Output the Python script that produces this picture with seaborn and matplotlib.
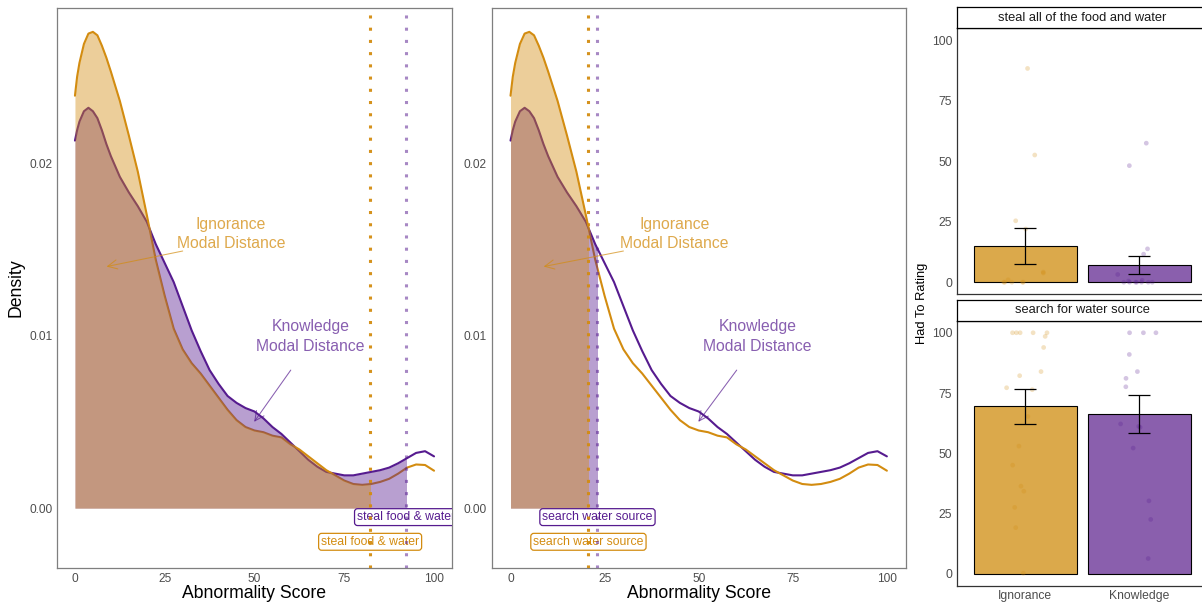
import numpy as np
import pandas as pd
import matplotlib
matplotlib.use("Agg")
import matplotlib.pyplot as plt
from matplotlib.patches import Rectangle
import seaborn as sns

# ------------------------------------------------------------------ data
score_grid = [0, 0.6, 1.25, 2.5, 3.75, 5, 6.25, 7.5, 8.75, 10, 12.5, 15, 17.5, 20, 22.5, 25,
              27.5, 30, 32.5, 35, 37.5, 40, 42.5, 45, 47.5, 50, 52.5, 55, 57.5, 60,
              62.5, 65, 67.5, 70, 72.5, 75, 77.5, 80, 82.5, 85, 87.5, 90, 92.5, 95,
              97.5, 100]
ignorance_density = [0.0239, 0.0250, 0.0258, 0.0269, 0.0275, 0.0276, 0.0274, 0.0268, 0.0261,
                     0.0253, 0.0236, 0.0216, 0.0195, 0.0170, 0.0144, 0.0123, 0.0104, 0.0092,
                     0.0084, 0.0078, 0.0071, 0.0064, 0.0057, 0.0051, 0.0047, 0.0045,
                     0.0044, 0.0042, 0.0041, 0.0037, 0.0034, 0.0030, 0.0026, 0.0022,
                     0.0019, 0.0016, 0.0014, 0.00135, 0.0014, 0.00152, 0.0017, 0.0020,
                     0.00235, 0.00253, 0.0025, 0.00217]
knowledge_density = [0.0213, 0.0219, 0.0224, 0.0230, 0.0232, 0.0230, 0.0226, 0.0219, 0.0211,
                     0.0204, 0.0192, 0.0183, 0.0175, 0.0166, 0.0153, 0.0142, 0.0131, 0.0117,
                     0.0103, 0.0091, 0.0080, 0.0072, 0.0065, 0.0061, 0.0058, 0.0056,
                     0.0052, 0.0047, 0.0043, 0.0038, 0.0033, 0.0028, 0.0024, 0.0021,
                     0.0020, 0.0019, 0.0019, 0.0020, 0.0021, 0.0022, 0.00235, 0.0026,
                     0.0029, 0.0032, 0.0033, 0.0030]

conditions = ["Ignorance", "Knowledge"]
steal_cutoffs = [82.2, 92.2]      # Ignorance, Knowledge
search_cutoffs = [20.7, 23.1]
steal_label = "steal food & water"
search_label = "search water source"
annot_ignorance = "Ignorance\nModal Distance"
annot_knowledge = "Knowledge\nModal Distance"

facet_titles = ["steal all of the food and water", "search for water source"]
steal_means = [15.0, 7.1]
steal_ci_low = [7.7, 3.4]
steal_ci_high = [22.6, 10.9]
search_means = [69.6, 66.4]
search_ci_low = [62.3, 58.3]
search_ci_high = [76.8, 74.4]

steal_points_ignorance = [88.4, 52.6, 25.4, 22.0, 4.2, 3.8, 1.0, 0, 0, 0, 0, 0]
steal_points_knowledge = [57.5, 48.2, 13.8, 11.6, 3.2, 0.8, 0.5, 0, 0, 0, 0, 0, 0, 0]
search_points_ignorance = [100, 100, 100, 98.5, 100, 100, 93.9, 83.9, 82.2, 77.2, 76.4,
                           65.3, 53.0, 45.1, 36.4, 34.3, 27.6, 19.2, 0.3]
search_points_knowledge = [100, 100, 100, 91.0, 83.9, 81.1, 77.6, 60.8, 62.2, 61.2, 52.2,
                           30.3, 22.6, 6.4]

score_ticks = [0, 25, 50, 75, 100]
density_ticks = [0.00, 0.01, 0.02]
rating_ticks = [0, 25, 50, 75, 100]

# ------------------------------------------------------------------ style
sns.set_theme(style="white")
plt.rcParams["font.family"] = ["Liberation Sans", "DejaVu Sans"]

COL = {"Ignorance": "#D38C10", "Knowledge": "#561B8F"}
BAR = {"Ignorance": "#DBA94B", "Knowledge": "#8A5FAD"}
TICK_COL = "#4D4D4D"
FRAME_COL = "#7F7F7F"

W, H = 1202, 605
fig = plt.figure(figsize=(W / 100, H / 100), dpi=100)


def px_axes(x0, y0, x1, y1):
    return fig.add_axes([x0 / W, 1 - y1 / H, (x1 - x0) / W, (y1 - y0) / H])


def density_panel(ax, cutoffs, label_text, show_ylabel):
    dens = {"Ignorance": ignorance_density, "Knowledge": knowledge_density}
    cut = dict(zip(conditions, cutoffs))
    for cond in ["Knowledge", "Ignorance"]:
        line = sns.lineplot(x=score_grid, y=dens[cond], color=COL[cond], lw=1.5,
                            estimator=None, sort=False, ax=ax, zorder=2)
    for l in ax.get_lines():
        l.set_solid_joinstyle("round")
    for z, cond in [(3, "Knowledge"), (4, "Ignorance")]:
        poly = ax.fill_between(score_grid, 0, dens[cond], color=COL[cond],
                               alpha=0.42, lw=0, zorder=z)
        poly.set_clip_path(Rectangle((0, -1), cut[cond], 2, transform=ax.transData))

    box = dict(boxstyle="round,pad=0.2,rounding_size=0.25", fc="white", lw=0.9)
    ax.text(cut["Knowledge"], -0.00052, label_text, color=COL["Knowledge"], ha="center",
            va="center", fontsize=8.8, zorder=5, clip_on=True,
            bbox=dict(box, ec=COL["Knowledge"]))
    ax.text(cut["Ignorance"], -0.00195, label_text, color=COL["Ignorance"], ha="center",
            va="center", fontsize=8.8, zorder=5, clip_on=True,
            bbox=dict(box, ec=COL["Ignorance"]))

    ax.axvline(cut["Ignorance"], color=COL["Ignorance"], alpha=0.95, lw=2.2,
               ls=(0, (1, 3)), zorder=6)
    ax.axvline(cut["Knowledge"], color=COL["Knowledge"], alpha=0.52, lw=2.2,
               ls=(0, (1, 3)), zorder=6)

    arrow = dict(arrowstyle="->,head_length=0.45,head_width=0.22", lw=0.75,
                 shrinkA=0, shrinkB=0, mutation_scale=15, alpha=0.7)
    ax.annotate("", xy=(8.8, 0.0140), xytext=(30, 0.0149),
                arrowprops=dict(arrow, color=COL["Ignorance"]), zorder=7)
    ax.annotate("", xy=(49.9, 0.0050), xytext=(60.1, 0.0080),
                arrowprops=dict(arrow, color=COL["Knowledge"]), zorder=7)
    ax.text(43.5, 0.0159, annot_ignorance, color=COL["Ignorance"], alpha=0.75,
            ha="center", va="center", fontsize=11.3, linespacing=1.35, zorder=7)
    ax.text(65.6, 0.00995, annot_knowledge, color=COL["Knowledge"], alpha=0.7,
            ha="center", va="center", fontsize=11.3, linespacing=1.35, zorder=7)

    ax.set_xlim(-5, 105)
    ax.set_ylim(-0.00348, 0.0290)
    ax.set_xticks(score_ticks)
    ax.set_xticklabels([str(t) for t in score_ticks])
    ax.set_yticks(density_ticks)
    ax.set_yticklabels([f"{t:.2f}" for t in density_ticks])
    ax.tick_params(length=0, labelsize=8.6, labelcolor=TICK_COL, pad=3.5)
    for s in ax.spines.values():
        s.set_visible(True)
        s.set_color(FRAME_COL)
        s.set_linewidth(0.9)
    ax.set_xlabel("Abnormality Score", fontsize=12.7, color="black")
    ax.xaxis.set_label_coords(0.5, -0.0305)
    if show_ylabel:
        ax.set_ylabel("Density", fontsize=12.7, color="black")
        ax.yaxis.set_label_coords(-0.082, 0.5)
    else:
        ax.set_ylabel("")


ax1 = px_axes(57, 7.7, 452, 568.2)
density_panel(ax1, steal_cutoffs, steal_label, True)
ax2 = px_axes(491.7, 7.7, 905.7, 568.2)
density_panel(ax2, search_cutoffs, search_label, False)


def bar_facet(ax, sax, title, means, lo, hi, pts_i, pts_k, show_x):
    bars = pd.DataFrame({"condition": conditions, "rating": means})
    sns.barplot(data=bars, x="condition", y="rating", hue="condition", order=conditions,
                hue_order=conditions, palette=BAR, width=0.9, saturation=1,
                edgecolor="black", linewidth=0.8, errorbar=None, legend=False,
                ax=ax, zorder=2)
    pts = pd.DataFrame({"condition": ["Ignorance"] * len(pts_i) + ["Knowledge"] * len(pts_k),
                        "rating": pts_i + pts_k})
    sns.stripplot(data=pts, x="condition", y="rating", hue="condition", order=conditions,
                  hue_order=conditions, palette=COL, jitter=0.2, size=3.4, alpha=0.25,
                  linewidth=0, legend=False, ax=ax, zorder=3)
    m = np.array(means)
    ax.errorbar([0, 1], m, yerr=[m - np.array(lo), np.array(hi) - m], fmt="none",
                ecolor="black", elinewidth=0.9, capsize=8.2, capthick=0.9, zorder=4)
    ax.set_xlim(-0.6, 1.6)
    ax.set_ylim(-5, 105)
    ax.set_yticks(rating_ticks)
    ax.set_yticklabels([str(t) for t in rating_ticks])
    ax.set_xticks([0, 1])
    ax.set_xticklabels(conditions if show_x else ["", ""])
    ax.tick_params(length=0, labelsize=8.7, labelcolor=TICK_COL, pad=3.2)
    ax.set_xlabel("")
    ax.set_ylabel("")
    for s in ax.spines.values():
        s.set_visible(True)
        s.set_color("#333333")
        s.set_linewidth(0.9)
    sax.set_facecolor("white")
    sax.set_xticks([])
    sax.set_yticks([])
    for s in sax.spines.values():
        s.set_visible(True)
        s.set_color("black")
        s.set_linewidth(0.9)
    sax.text(0.5, 0.5, title, transform=sax.transAxes, ha="center", va="center",
             fontsize=9.3, color="#1A1A1A")


np.random.seed(3)
p1 = px_axes(956.7, 28.3, 1208, 294.3)
s1 = px_axes(956.7, 7.3, 1208, 28.3)
bar_facet(p1, s1, facet_titles[0], steal_means, steal_ci_low, steal_ci_high,
          steal_points_ignorance, steal_points_knowledge, False)
p2 = px_axes(956.7, 320.7, 1208, 586)
s2 = px_axes(956.7, 300, 1208, 320.7)
bar_facet(p2, s2, facet_titles[1], search_means, search_ci_low, search_ci_high,
          search_points_ignorance, search_points_knowledge, True)

fig.text(922 / W, 1 - 303 / H, "Had To Rating", rotation=90, ha="center", va="center",
         fontsize=9.3, color="black")

fig.savefig("out.png", dpi=100, facecolor="white")
